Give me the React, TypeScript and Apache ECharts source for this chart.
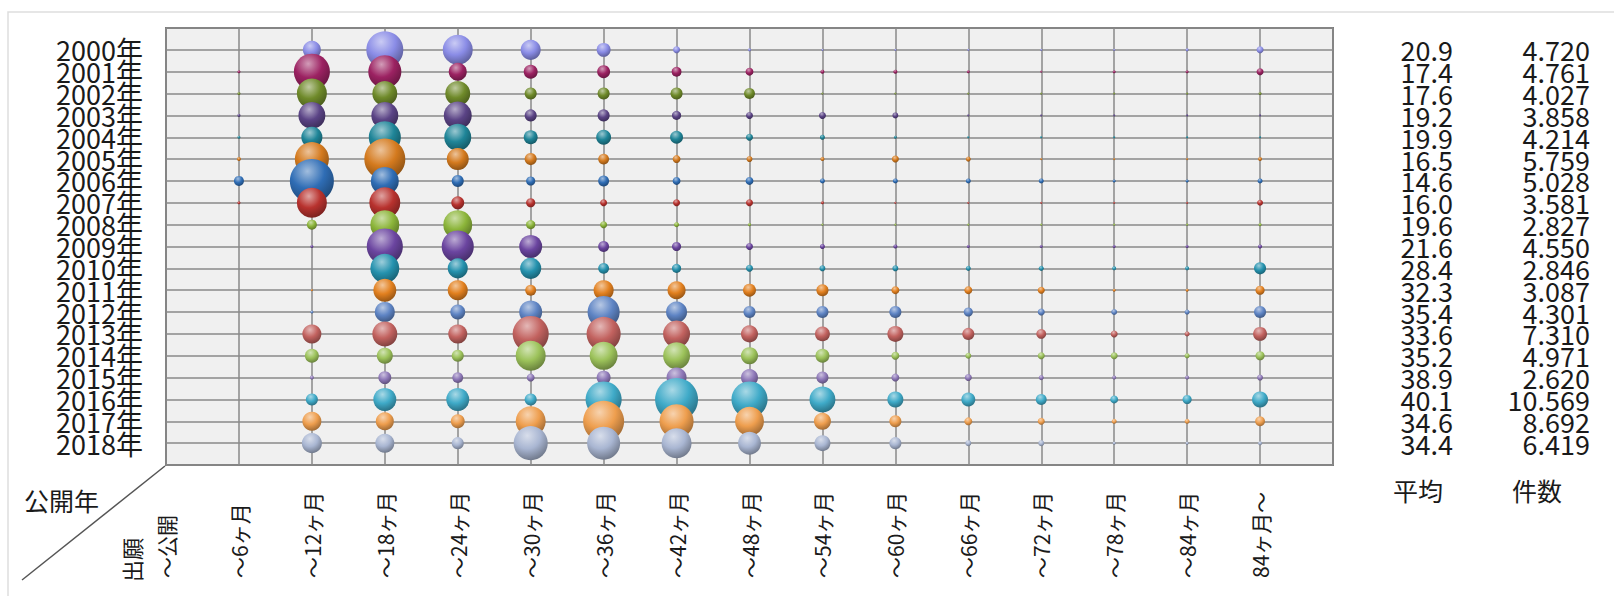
import React, { useEffect, useRef } from "react";
import * as echarts from "echarts";

// Row categories (公開年)
const years = [
  "2000年", "2001年", "2002年", "2003年", "2004年", "2005年", "2006年", "2007年", "2008年", "2009年",
  "2010年", "2011年", "2012年", "2013年", "2014年", "2015年", "2016年", "2017年", "2018年",
];

// Column categories (出願→公開 period)
const periods = [
  "～公開", "～6ヶ月", "～12ヶ月", "～18ヶ月", "～24ヶ月", "～30ヶ月", "～36ヶ月", "～42ヶ月",
  "～48ヶ月", "～54ヶ月", "～60ヶ月", "～66ヶ月", "～72ヶ月", "～78ヶ月", "～84ヶ月", "84ヶ月～",
];

// Right-hand columns
const averages = [20.9, 17.4, 17.6, 19.2, 19.9, 16.5, 14.6, 16.0, 19.6, 21.6, 28.4, 32.3, 35.4, 33.6, 35.2, 38.9, 40.1, 34.6, 34.4];
const totals = [4720, 4761, 4027, 3858, 4214, 5759, 5028, 3581, 2827, 4550, 2846, 3087, 4301, 7310, 4971, 2620, 10569, 8692, 6419];

// Estimated counts per (year, period) — bubble area
const counts: number[][] = [
  [0, 0, 470, 1970, 1300, 580, 280, 70, 13, 6, 6, 6, 6, 6, 13, 70], // 2000
  [0, 13, 1870, 1570, 470, 280, 240, 140, 90, 23, 23, 13, 6, 13, 13, 70], // 2001
  [0, 13, 1300, 900, 900, 210, 210, 210, 170, 6, 6, 6, 6, 6, 6, 13], // 2002
  [0, 13, 1050, 1050, 1130, 210, 210, 120, 70, 70, 50, 6, 6, 6, 6, 6], // 2003
  [0, 13, 640, 1480, 1050, 280, 320, 240, 70, 36, 13, 6, 6, 6, 6, 6], // 2004
  [0, 23, 1670, 2420, 700, 210, 170, 90, 50, 23, 70, 36, 6, 6, 6, 23], // 2005
  [0, 144, 2790, 1130, 210, 120, 170, 90, 90, 36, 36, 36, 36, 13, 13, 36], // 2006
  [0, 13, 1300, 1380, 240, 120, 70, 70, 70, 13, 6, 6, 6, 6, 6, 50], // 2007
  [0, 0, 144, 1210, 1210, 120, 70, 36, 13, 6, 6, 6, 6, 6, 6, 13], // 2008
  [0, 0, 13, 1870, 1480, 760, 170, 120, 70, 36, 23, 13, 13, 13, 13, 23], // 2009
  [0, 0, 0, 1210, 580, 640, 170, 120, 70, 50, 50, 36, 36, 23, 23, 210], // 2010
  [0, 0, 6, 760, 580, 170, 580, 470, 240, 210, 90, 90, 70, 13, 13, 120], // 2011
  [0, 0, 13, 580, 320, 760, 1480, 640, 210, 210, 210, 120, 70, 50, 36, 210], // 2012
  [0, 0, 520, 900, 520, 1870, 1670, 1050, 420, 320, 370, 210, 140, 70, 36, 280], // 2013
  [0, 0, 280, 370, 210, 1300, 1130, 1050, 420, 280, 90, 50, 70, 70, 36, 120], // 2014
  [0, 0, 23, 240, 170, 90, 280, 580, 420, 210, 90, 70, 36, 23, 23, 50], // 2015
  [0, 0, 210, 760, 760, 210, 1870, 2660, 1870, 970, 370, 280, 170, 90, 120, 370], // 2016
  [0, 0, 520, 470, 280, 1300, 2420, 1670, 1210, 420, 210, 90, 70, 36, 36, 140], // 2017
  [0, 0, 580, 520, 210, 1670, 1570, 1300, 760, 370, 210, 50, 50, 13, 13, 23], // 2018
];

const yearColors = [
  "#8A8CE6", "#9C2262", "#6F8A2A", "#5B4486", "#1F8598", "#D47A1E", "#2F6DB5", "#B8322E", "#8CB53A", "#6B45A0",
  "#2592AE", "#E2801F", "#5E84C4", "#C2625F", "#9CC25A", "#8E78B8", "#3FAAC8", "#EE9E4E", "#A9B6D2",
];

const FONT = '"Noto Sans CJK JP", "Noto Sans", sans-serif';

function mix(hex: string, target: string, t: number): string {
  const p = (h: string) => [1, 3, 5].map((i) => parseInt(h.slice(i, i + 2), 16));
  const a = p(hex);
  const b = p(target);
  const c = a.map((v, i) => Math.round(v + (b[i] - v) * t));
  return "rgb(" + c.join(",") + ")";
}

function fmtThousands(n: number): string {
  return String(n).replace(/\B(?=(\d{3})+(?!\d))/g, ".");
}

export default function App() {
  const ref = useRef<HTMLDivElement>(null);

  useEffect(() => {
    if (!ref.current) return;
    const chart = echarts.init(ref.current, undefined, { renderer: "svg" });

    const series = years.map((y, r) => ({
      type: "scatter",
      name: y,
      data: counts[r]
        .map((v, c) => [c, r + 1, v])
        .filter((d) => d[2] > 0),
      symbolSize: (d: number[]) => Math.sqrt(d[2]) / 1.2,
      itemStyle: {
        color: new echarts.graphic.RadialGradient(0.4, 0.28, 0.78, [
          { offset: 0, color: mix(yearColors[r], "#ffffff", 0.55) },
          { offset: 0.5, color: yearColors[r] },
          { offset: 1, color: mix(yearColors[r], "#000000", 0.38) },
        ]),
        opacity: 1,
      },
      emphasis: { disabled: true },
    }));

    const baseY = {
      type: "value",
      min: 0,
      max: 20,
      interval: 1,
      inverse: true,
      axisLine: { show: false },
      axisTick: { show: false },
    };

    chart.setOption({
      animation: false,
      backgroundColor: "#ffffff",
      grid: {
        left: 166,
        right: 281,
        top: 28,
        bottom: 131,
        show: true,
        backgroundColor: "#f0f0f0",
        borderColor: "#7a7a7a",
        borderWidth: 2,
      },
      xAxis: {
        type: "value",
        min: 0,
        max: 16,
        interval: 1,
        axisLine: { show: false },
        axisTick: { show: false },
        splitLine: { show: true, lineStyle: { color: "#8a8a8a", width: 1.5 } },
        axisLabel: {
          rotate: 90,
          align: "left",
          verticalAlign: "middle",
          margin: 113,
          showMinLabel: true,
          showMaxLabel: true,
          fontSize: 21,
          fontFamily: FONT,
          color: "#1a1a1a",
          formatter: (v: number) => periods[Math.round(v)] ?? "",
        },
      },
      yAxis: [
        {
          ...baseY,
          position: "left",
          splitLine: { show: true, lineStyle: { color: "#8a8a8a", width: 1.5 } },
          axisLabel: {
            margin: 23,
            fontSize: 27,
            lineHeight: 20,
            fontFamily: FONT,
            color: "#1a1a1a",
            showMinLabel: true,
            showMaxLabel: true,
            formatter: (v: number) => years[Math.round(v) - 1] ?? "",
          },
        },
        {
          ...baseY,
          position: "right",
          splitLine: { show: false },
          axisLabel: {
            margin: 120,
            align: "right",
            fontSize: 27,
            lineHeight: 20,
            fontFamily: FONT,
            color: "#1a1a1a",
            formatter: (v: number) => {
              const a = averages[Math.round(v) - 1];
              return a === undefined ? "" : a.toFixed(1);
            },
          },
        },
        {
          ...baseY,
          position: "right",
          offset: 0,
          splitLine: { show: false },
          axisLabel: {
            margin: 257,
            align: "right",
            fontSize: 27,
            lineHeight: 20,
            fontFamily: FONT,
            color: "#1a1a1a",
            formatter: (v: number) => {
              const t = totals[Math.round(v) - 1];
              return t === undefined ? "" : fmtThousands(t);
            },
          },
        },
      ],
      series,
      graphic: [
        {
          type: "rect",
          silent: true,
          z: -10,
          shape: { x: 8, y: 12, width: 1700, height: 700 },
          style: { fill: "none", stroke: "#dedede", lineWidth: 1.5 },
        },
        {
          type: "line",
          silent: true,
          shape: { x1: 22, y1: 580, x2: 165, y2: 466 },
          style: { stroke: "#555", lineWidth: 1.5 },
        },
        {
          type: "text",
          x: 24,
          y: 500,
          style: {
            text: "公開年",
            font: "25px " + FONT,
            fill: "#1a1a1a",
            textAlign: "left",
            textVerticalAlign: "middle",
          },
        },
        {
          type: "text",
          x: 131,
          y: 582,
          rotation: Math.PI / 2,
          style: {
            text: "出願",
            font: "22px " + FONT,
            fill: "#1a1a1a",
            textAlign: "left",
            textVerticalAlign: "middle",
          },
        },
        {
          type: "text",
          x: 1393,
          y: 490,
          style: {
            text: "平均",
            font: "25px " + FONT,
            fill: "#1a1a1a",
            textAlign: "left",
            textVerticalAlign: "middle",
          },
        },
        {
          type: "text",
          x: 1512,
          y: 490,
          style: {
            text: "件数",
            font: "25px " + FONT,
            fill: "#1a1a1a",
            textAlign: "left",
            textVerticalAlign: "middle",
          },
        },
      ],
    });

    return () => chart.dispose();
  }, []);

  return (
    <div
      ref={ref}
      style={{ position: "fixed", left: 0, top: 0, width: 1614, height: 596, background: "#fff" }}
    />
  );
}
